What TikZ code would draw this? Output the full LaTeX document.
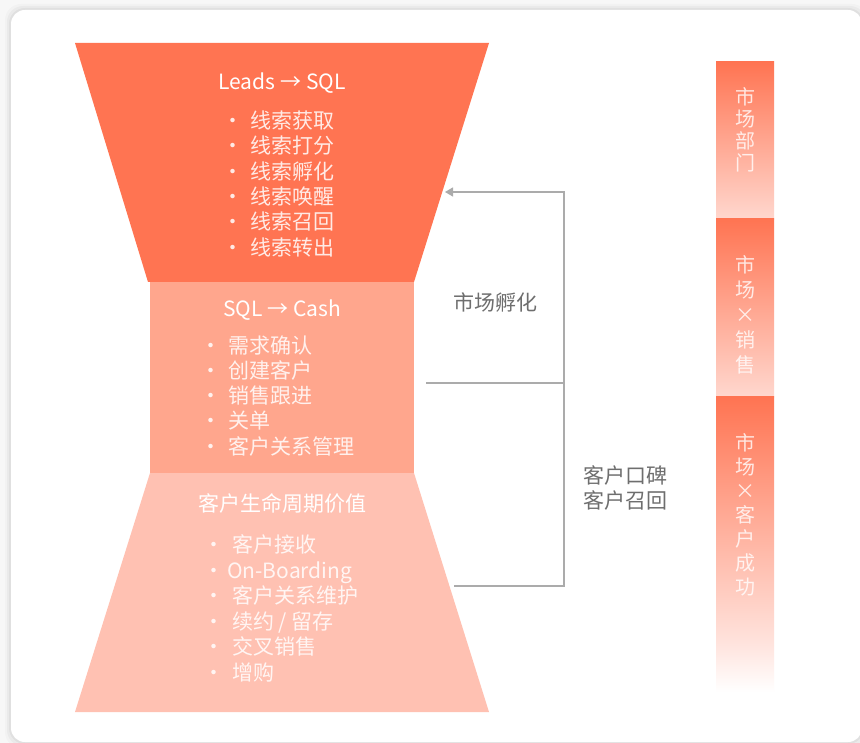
\documentclass[tikz,border=0pt]{standalone}
\usepackage{fontspec}
\setmainfont{Noto Sans CJK SC}
\usetikzlibrary{arrows.meta}
\definecolor{topc}{HTML}{FF7452}
\definecolor{midc}{HTML}{FFA68D}
\definecolor{botc}{HTML}{FFC1B2}
\definecolor{barlow}{HTML}{FFD8CF}
\definecolor{barmid}{HTML}{FFE4DE}
\definecolor{linec}{HTML}{ABABAB}
\definecolor{labc}{HTML}{6E6E6E}
\definecolor{bgc}{HTML}{F7F7F7}
\pgfdeclareverticalshading{barone}{100bp}{color(0bp)=(barlow); color(25bp)=(barlow); color(75bp)=(topc); color(100bp)=(topc)}
\pgfdeclareverticalshading{barthree}{100bp}{color(0bp)=(white); color(25bp)=(white); color(33bp)=(barmid); color(75bp)=(topc); color(100bp)=(topc)}
\newcommand{\bl}[2]{\makebox[#1][l]{\makebox[0pt][c]{·}}#2}
\tikzset{
  txt/.style={font=\fontsize{21}{25}\selectfont, inner sep=0pt, text height=18pt, text depth=2.5pt},
  title/.style={txt, text=white},
  item/.style={txt, text=white, text opacity=0.85, anchor=west},
  lab/.style={txt, text=labc},
  bartxt/.style={font=\fontsize{20}{23}\selectfont, text=white, text opacity=0.8, align=center, inner sep=0pt},
  conn/.style={draw=linec, line width=1.2pt},
}
\begin{document}
\begin{tikzpicture}[x=1pt,y=-1pt]
\useasboundingbox (0,0) rectangle (860,743);
% background and card
\fill[bgc] (0,0) rectangle (860,743);
\foreach \s/\o in {6/0.02,4/0.03,2/0.04}{
  \fill[black, opacity=\o, rounded corners=16pt] (11-\s,10-\s) rectangle (862+\s,742+\s);
}
\fill[white, rounded corners=14pt] (11,10) rectangle (862,742);
% funnel shapes
\fill[topc] (75,43) -- (489,43) -- (414,282) -- (148,282) -- cycle;
\fill[midc] (150,282) rectangle (414,473);
\fill[botc] (150,473) -- (414,473) -- (489,712) -- (75,712) -- cycle;
% titles
\node[title] (t1) at (282,82) {Leads → SQL};
\node[title] (t2) at (282,309) {SQL → Cash};
\node[title] (t3) at (282,504) {客户生命周期价值};
% top items
\node[item] (a1) at (233,121) {\bl{17pt}{线索获取}};
\node[item] (a2) at (233,146) {\bl{17pt}{线索打分}};
\node[item] (a3) at (233,172) {\bl{17pt}{线索孵化}};
\node[item] (a4) at (233,197) {\bl{17pt}{线索唤醒}};
\node[item] (a5) at (233,222) {\bl{17pt}{线索召回}};
\node[item] (a6) at (233,248) {\bl{17pt}{线索转出}};
% middle items
\node[item] (b1) at (211,346) {\bl{17pt}{需求确认}};
\node[item] (b2) at (211,371) {\bl{17pt}{创建客户}};
\node[item] (b3) at (211,396) {\bl{17pt}{销售跟进}};
\node[item] (b4) at (211,421) {\bl{17pt}{关单}};
\node[item] (b5) at (211,447) {\bl{17pt}{客户关系管理}};
% bottom items
\node[item] (c1) at (214,545) {\bl{18pt}{客户接收}};
\node[item] (c2) at (214,571) {\bl{13pt}{On-Boarding}};
\node[item] (c3) at (214,596) {\bl{18pt}{客户关系维护}};
\node[item] (c4) at (214,622) {\bl{18pt}{续约 / 留存}};
\node[item] (c5) at (214,647) {\bl{18pt}{交叉销售}};
\node[item] (c6) at (214,673) {\bl{18pt}{增购}};
% connectors
\coordinate (arrowEnd) at (445,192);
\coordinate (cornerTop) at (564,192);
\coordinate (cornerBot) at (564,586);
\coordinate (botStart) at (454,586);
\coordinate (midStart) at (426,383);
\coordinate (midEnd) at (564,383);
\draw[conn, -{Triangle[length=8pt,width=9pt]}] (botStart) -- (cornerBot) -- (cornerTop) -- (arrowEnd);
\draw[conn] (midStart) -- (midEnd);
\node[lab] (l1) at (495,303) {市场孵化};
\node[lab] (l2) at (625,476) {客户口碑};
\node[lab] (l3) at (625,501) {客户召回};
% right bars
\shade[shading=barone] (716,62) rectangle (774,220);
\shade[shading=barone] (716,219) rectangle (774,398);
\shade[shading=barthree] (716,397) rectangle (774,692);
\node[bartxt, font=\fontsize{20}{22}\selectfont] (r1) at (745,130) {市\\场\\部\\门};
\node[bartxt, font=\fontsize{20}{25}\selectfont] (r2) at (745,315) {市\\场\\×\\销\\售};
\node[bartxt, font=\fontsize{20}{24}\selectfont] (r3) at (745,515) {市\\场\\×\\客\\户\\成\\功};
\end{tikzpicture}
\end{document}
